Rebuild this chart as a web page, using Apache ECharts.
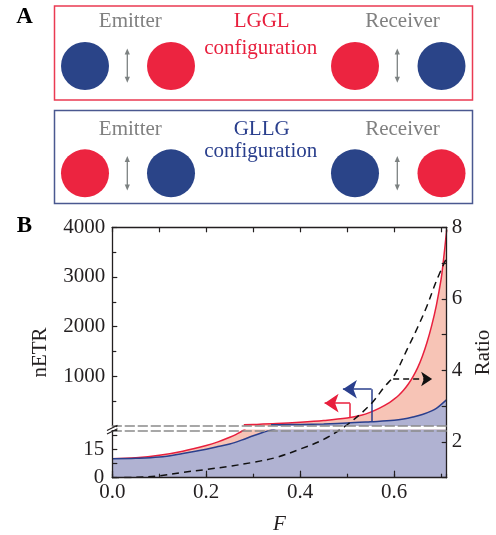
<!DOCTYPE html>
<html>
<head>
<meta charset="utf-8">
<script src="https://cdn.jsdelivr.net/npm/echarts@6/dist/echarts.min.js"></script>
<style>html,body{margin:0;padding:0;background:#fff}#c{width:496px;height:535px}</style>
</head>
<body>
<div id="c"></div>
<script>
// ---------- data ----------
const F_MAX = 0.712;
// nETR of the LGGL configuration (red)
const redNETR = [[0,10.0],[0.05,10.5],[0.1,11.8],[0.15,14.0],[0.2,17.0],[0.225,18.9],[0.25,21.3],[0.265,23.0],[0.28,25.2],
  [0.3,30],[0.35,48],[0.4,75],[0.45,110],[0.5,160],[0.53,215],[0.55,280],[0.57,365],[0.59,470],[0.6,540],[0.61,620],
  [0.62,720],[0.63,840],[0.64,990],[0.65,1170],[0.66,1400],[0.67,1680],[0.68,2020],[0.69,2430],[0.7,2950],[0.705,3330],[0.712,3950]];
// nETR of the GLLG configuration (blue)
const blueNETR = [[0,10.0],[0.05,10.2],[0.1,10.9],[0.15,12.8],[0.2,15.0],[0.225,16.4],[0.25,17.8],[0.275,19.8],[0.3,22.1],
  [0.32,23.8],[0.338,25.2],[0.36,27],[0.4,32],[0.45,42],[0.5,58],[0.55,85],[0.6,115],[0.62,140],[0.64,180],[0.66,230],
  [0.68,305],[0.69,355],[0.7,430],[0.712,530]];
// ratio LGGL / GLLG (dashed, right axis)
const ratio = [[0,1.0],[0.05,1.01],[0.1,1.05],[0.15,1.15],[0.2,1.23],[0.25,1.32],[0.3,1.43],[0.35,1.57],[0.4,1.8],
  [0.45,2.07],[0.5,2.48],[0.55,3.05],[0.58,3.55],[0.6,3.85],[0.63,4.65],[0.65,5.2],[0.67,5.8],[0.69,6.5],[0.712,7.15]];
// break of the nETR axis
const lowerMax = 25;
const upperMax = 4000;
// arrows pointing to the axis that each curve uses
const redArrowStem = [[0.506,160],[0.506,460]];
const redArrowHead = [[0.506,460],[0.452,460]];
const blueArrowStem = [[0.552,88],[0.552,740]];
const blueArrowHead = [[0.552,740],[0.491,740]];
const ratioArrow = [[0.598,3.76],[0.681,3.76]];
// tick labels
const xLabels = [0,0.2,0.4,0.6];
const lowerLabels = [0,15];
const ratioLabels = [2,4,6,8];

// ---------- styles ----------
const RED = '#e81f3d', BLUE = '#2a3f8d', PINK = '#f7c4b6', LAV = '#b0b2d2';
const CRED = '#ec2440', CBLUE = '#2a4488', GREY = '#808080', INK = '#231f20';
const FONT = 'Liberation Serif';
const upperRed = redNETR.filter(d => d[1] >= lowerMax);
const upperBlue = blueNETR.filter(d => d[1] >= lowerMax);

const L = 112.3, W = 334.4;
const lbl = {fontFamily: FONT, fontSize: 21, color: INK};

function dbl(x, y1, y2) {
  return [
    {type:'line', shape:{x1:x,y1:y1+4,x2:x,y2:y2-4}, style:{stroke:'#7d8282', lineWidth:1.3}},
    {type:'polygon', shape:{points:[[x,y1],[x-2.6,y1+6],[x+2.6,y1+6]]}, style:{fill:'#7d8282'}},
    {type:'polygon', shape:{points:[[x,y2],[x-2.6,y2-6],[x+2.6,y2-6]]}, style:{fill:'#7d8282'}}
  ];
}
function txt(s, x, y, color) {
  return {type:'text', x:x, y:y, style:{text:s, fill:color, font:'21px "Liberation Serif"', align:'center', verticalAlign:'middle'}};
}
function circ(x, y, c) { return {type:'circle', shape:{cx:x, cy:y, r:24}, style:{fill:c}}; }

const graphics = [
  {type:'text', x:24.5, y:17, style:{text:'A', fill:'#000', font:'bold 23px "Liberation Serif"', align:'center', verticalAlign:'middle'}},
  {type:'text', x:24.5, y:226, style:{text:'B', fill:'#000', font:'bold 23px "Liberation Serif"', align:'center', verticalAlign:'middle'}},
  {type:'rect', shape:{x:54.5, y:6, width:418, height:94}, style:{fill:'none', stroke:'#ea3a52', lineWidth:1.5}},
  {type:'rect', shape:{x:54.5, y:110.5, width:418, height:93}, style:{fill:'none', stroke:'#4a5890', lineWidth:1.5}},
  txt('Emitter',130.3,21.5,GREY), txt('LGGL',261.7,21.5,RED), txt('configuration',260.7,48,RED), txt('Receiver',402.5,21.5,GREY),
  txt('Emitter',130.3,129.5,GREY), txt('GLLG',261.7,129.5,BLUE), txt('configuration',260.7,151.5,BLUE), txt('Receiver',402.5,129.5,GREY),
  circ(85,66,CBLUE), circ(171,66,CRED), circ(355,66,CRED), circ(441.5,66,CBLUE),
  circ(85,173.3,CRED), circ(171,173.3,CBLUE), circ(355,173.3,CBLUE), circ(441.5,173.3,CRED),
  ...dbl(127.3,48.5,82.7), ...dbl(397.3,48.5,82.7), ...dbl(127.3,156,190.5), ...dbl(397.3,156,190.5),
  // axis break marks
  {type:'rect', shape:{x:108, y:426.6, width:8, height:3.4}, style:{fill:'#fff'}, z:100},
  {type:'line', shape:{x1:107,y1:430.5,x2:117.5,y2:425.3}, style:{stroke:INK, lineWidth:1.2}, z:101},
  {type:'line', shape:{x1:107,y1:434,x2:117.5,y2:428.8}, style:{stroke:INK, lineWidth:1.2}, z:101}
];

const dashedGrey = {show:true, onZero:false, lineStyle:{color:'#8a8a8a', width:1.6, type:[9,4]}};
const inTick = (len) => ({show:true, inside:true, length:len, lineStyle:{color:INK, width:1.2}});
const axLine = {show:true, onZero:false, lineStyle:{color:INK, width:1.3}};
const SM = 0.35;

const option = {
  animation:false,
  backgroundColor:'#fff',
  graphic: graphics,
  grid: [
    {left:L, width:W, top:430.3, height:47.4, outerBoundsMode:'none', containLabel:false},
    {left:L, width:W, top:227.3, height:198.7, outerBoundsMode:'none', containLabel:false},
    {left:L, width:W, top:227.3, height:250.4, outerBoundsMode:'none', containLabel:false}
  ],
  xAxis: [
    {gridIndex:0, type:'value', position:'top', min:0, max:F_MAX, axisLine:dashedGrey, axisTick:{show:false}, axisLabel:{show:false}, splitLine:{show:false}, z:20},
    {gridIndex:0, type:'value', position:'bottom', min:0, max:F_MAX, interval:0.1, axisLine:{show:false, onZero:false}, axisTick:inTick(4), axisLabel:{show:false}, splitLine:{show:false}, z:20},
    {gridIndex:1, type:'value', position:'bottom', min:0, max:F_MAX, axisLine:dashedGrey, axisTick:{show:false}, axisLabel:{show:false}, splitLine:{show:false}, z:20},
    {gridIndex:2, type:'value', position:'bottom', min:0, max:F_MAX, axisLine:axLine,
      axisTick:Object.assign(inTick(7), {customValues:xLabels}),
      axisLabel:Object.assign({}, lbl, {customValues:xLabels, margin:4, formatter:v => v.toFixed(1)}),
      splitLine:{show:false}, name:'F', nameLocation:'middle', nameGap:36,
      nameTextStyle:Object.assign({}, lbl, {fontStyle:'italic'}), z:20},
    {gridIndex:2, type:'value', position:'top', min:0, max:F_MAX, interval:0.1, axisLine:axLine, axisTick:inTick(5), axisLabel:{show:false}, splitLine:{show:false}, z:20}
  ],
  yAxis: [
    {gridIndex:0, type:'value', position:'left', min:0, max:lowerMax, interval:7.5, axisLine:axLine, axisTick:inTick(5),
      axisLabel:Object.assign({}, lbl, {customValues:lowerLabels, margin:8}), splitLine:{show:false}, z:20},
    {gridIndex:1, type:'value', position:'left', min:0, max:upperMax, interval:1000, axisLine:axLine, axisTick:inTick(5),
      minorTick:{show:true, splitNumber:2, length:4, lineStyle:{color:INK, width:1.2}},
      axisLabel:Object.assign({}, lbl, {margin:7, showMinLabel:false, formatter:v => v === 0 ? '' : String(v)}), splitLine:{show:false}, z:20},
    {gridIndex:2, type:'value', position:'right', min:1, max:8, interval:1, axisLine:axLine, axisTick:inTick(5),
      axisLabel:Object.assign({}, lbl, {customValues:ratioLabels, margin:5}), splitLine:{show:false},
      name:'Ratio', nameLocation:'middle', nameRotate:90, nameGap:25, nameTextStyle:lbl, z:20},
    {gridIndex:2, type:'value', position:'left', min:0, max:1, axisLine:{show:false, onZero:false}, axisTick:{show:false}, axisLabel:{show:false}, splitLine:{show:false},
      name:'nETR', nameLocation:'middle', nameRotate:90, nameGap:61, nameTextStyle:lbl}
  ],
  series: [
    {name:'LGGL low', type:'line', xAxisIndex:0, yAxisIndex:0, data:redNETR, showSymbol:false, smooth:SM,
      lineStyle:{color:RED, width:1.5}, itemStyle:{color:RED}, areaStyle:{color:PINK, opacity:1, origin:'start'}, z:2},
    {name:'GLLG low', type:'line', xAxisIndex:0, yAxisIndex:0, data:blueNETR, showSymbol:false, smooth:SM,
      lineStyle:{color:BLUE, width:1.5}, itemStyle:{color:BLUE}, areaStyle:{color:LAV, opacity:1, origin:'start'}, z:3},
    {name:'LGGL up', type:'line', xAxisIndex:2, yAxisIndex:1, data:upperRed, showSymbol:false, smooth:SM,
      lineStyle:{color:RED, width:1.5}, itemStyle:{color:RED}, areaStyle:{color:PINK, opacity:1, origin:'start'}, z:2},
    {name:'GLLG up', type:'line', xAxisIndex:2, yAxisIndex:1, data:upperBlue, showSymbol:false, smooth:SM,
      lineStyle:{color:BLUE, width:1.5}, itemStyle:{color:BLUE}, areaStyle:{color:LAV, opacity:1, origin:'start'}, z:3},
    {name:'Ratio', type:'line', xAxisIndex:3, yAxisIndex:2, data:ratio, showSymbol:false, smooth:SM,
      lineStyle:{color:'#111', width:1.5, type:[7,5]}, itemStyle:{color:'#111'}, z:5},
    {type:'lines', coordinateSystem:'cartesian2d', xAxisIndex:2, yAxisIndex:1, symbol:['none','none'], z:5,
      data:[{coords:redArrowStem, lineStyle:{color:RED}}, {coords:blueArrowStem, lineStyle:{color:BLUE}}],
      lineStyle:{width:1.5, opacity:1, curveness:0}},
    {type:'lines', coordinateSystem:'cartesian2d', xAxisIndex:2, yAxisIndex:1, symbol:['none','arrow'], symbolSize:[12,14], z:5,
      data:[{coords:redArrowHead, lineStyle:{color:RED}}, {coords:blueArrowHead, lineStyle:{color:BLUE}}],
      lineStyle:{width:1.5, opacity:1, curveness:0}},
    {type:'lines', coordinateSystem:'cartesian2d', xAxisIndex:3, yAxisIndex:2, symbol:['none','arrow'], symbolSize:[9,11], z:5,
      data:[{coords:ratioArrow}],
      lineStyle:{color:'#111', width:1.5, type:[6,4], opacity:1, curveness:0}}
  ]
};
const chart = echarts.init(document.getElementById('c'), null, {renderer:'canvas'});
chart.setOption(option);
</script>
</body>
</html>
